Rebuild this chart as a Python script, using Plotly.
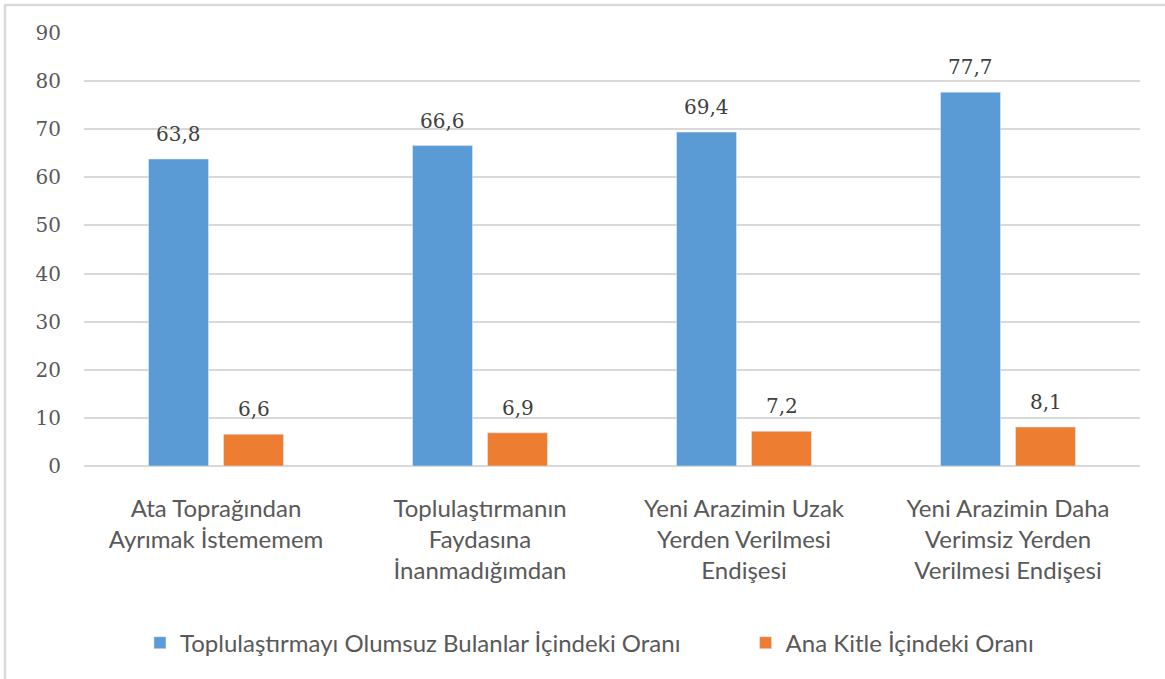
import plotly.graph_objects as go

categories = [
    "Ata Toprağından<br>Ayrımak İstememem",
    "Toplulaştırmanın<br>Faydasına<br>İnanmadığımdan",
    "Yeni Arazimin Uzak<br>Yerden Verilmesi<br>Endişesi",
    "Yeni Arazimin Daha<br>Verimsiz Yerden<br>Verilmesi Endişesi",
]
series_names = [
    "Toplulaştırmayı Olumsuz Bulanlar İçindeki Oranı",
    "Ana Kitle İçindeki Oranı",
]
olumsuz = [63.8, 66.6, 69.4, 77.7]
ana_kitle = [6.6, 6.9, 7.2, 8.1]

SANS = "Lato"
SERIF = "DejaVu Serif"
GREY = "#595959"

fig = go.Figure()
annotations = []
series = [(series_names[0], olumsuz, "#5B9BD5", "legend", -37.5),
          (series_names[1], ana_kitle, "#ED7D31", "legend2", 37.5)]
for name, vals, color, leg, shift in series:
    fig.add_trace(go.Bar(x=categories, y=vals, name=name, marker_color=color,
                         legend=leg, showlegend=True))
    # data labels sit a bit higher than plotly's "outside" text
    for cat, v in zip(categories, vals):
        annotations.append(dict(
            x=cat, y=v, xref="x", yref="y", text=f"{v:.1f}".replace(".", ","),
            showarrow=False, yanchor="bottom", xshift=shift, yshift=11,
            font=dict(family=SERIF, size=20, color="#404040"),
        ))

legend_font = dict(family=SANS, size=24, color=GREY)
fig.update_layout(
    width=1165, height=679,
    margin=dict(l=84, r=25, t=33, b=213),
    paper_bgcolor="white", plot_bgcolor="white",
    showlegend=True,
    barmode="group", bargap=0.432, bargroupgap=0.2,
    annotations=annotations,
    legend=dict(orientation="h", x=0.053, xanchor="left", y=-0.409,
                yanchor="middle", font=legend_font),
    legend2=dict(orientation="h", x=0.6265, xanchor="left", y=-0.409,
                 yanchor="middle", font=legend_font),
    shapes=[dict(type="rect", xref="paper", yref="paper",
                 x0=-0.0748, x1=1.05, y0=-0.6, y1=1.0647,
                 line=dict(color="#D9D9D9", width=2.5))],
)
fig.update_xaxes(tickfont=dict(family=SANS, size=24, color=GREY),
                 ticklabelstandoff=26, showline=False, automargin=False)
fig.update_yaxes(range=[0, 90], dtick=10, gridcolor="#D9D9D9", gridwidth=1.5,
                 zeroline=True, zerolinecolor="#D9D9D9", zerolinewidth=1.5,
                 tickfont=dict(family=SERIF, size=20, color=GREY),
                 ticklabelstandoff=22, automargin=False)

# page body has a default 8px margin; drop it so the figure fills the window
fig.write_html("out.html", config={"displayModeBar": False},
               post_script="document.body.style.margin='0';")
